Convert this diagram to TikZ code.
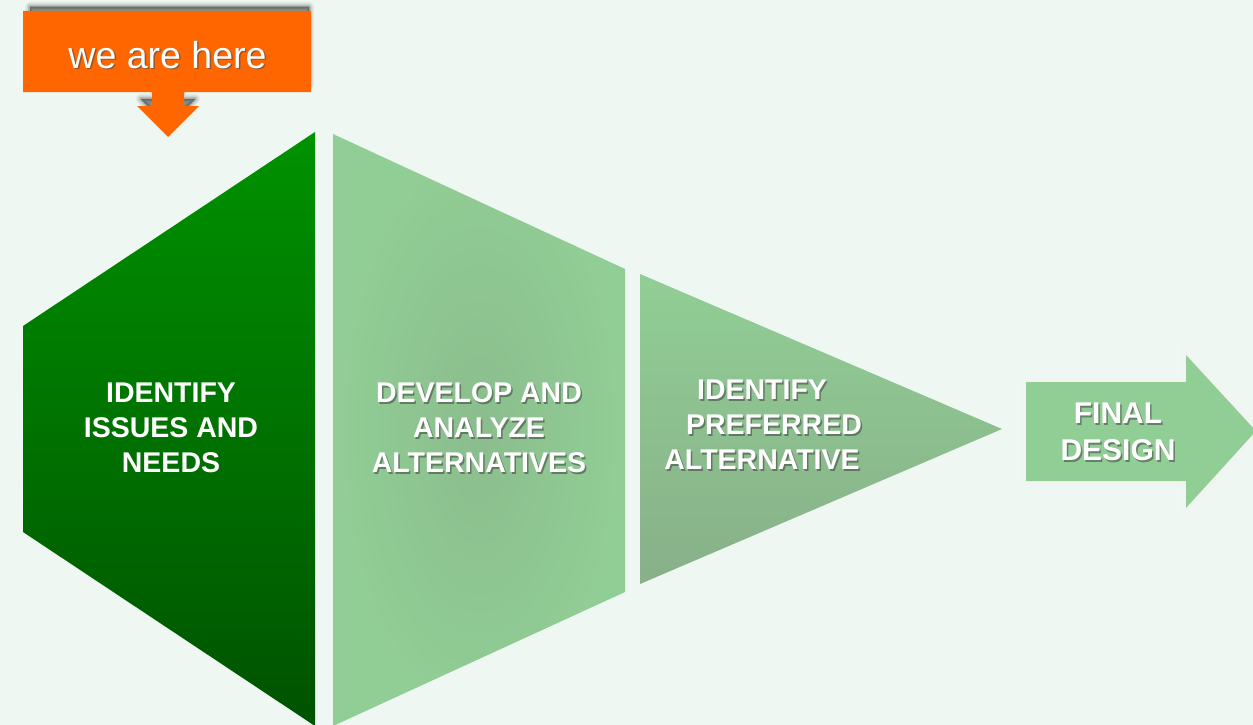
\documentclass[tikz,border=0pt]{standalone}
\usepackage{fontspec}
\setmainfont{Liberation Sans}
\usetikzlibrary{calc}
\definecolor{bg}{HTML}{EEF7F1}
\definecolor{orng}{HTML}{FF6600}
\definecolor{dkgtop}{HTML}{009200}
\definecolor{dkgbot}{HTML}{005200}
\definecolor{ltg}{HTML}{91CE95}
\definecolor{ltgin}{HTML}{8BBD8D}
\definecolor{trbot}{HTML}{88B089}
\definecolor{arrowedge}{HTML}{F2F4F2}
\begin{document}
\begin{tikzpicture}[x=1pt,y=-1pt,
  lbl/.style={align=center, inner sep=0pt, font=\fontsize{28.5}{35}\selectfont\bfseries, text=white},
  shd/.style={lbl, text=black!75, opacity=0.55},
  flbl/.style={lbl, font=\fontsize{30}{37}\selectfont\bfseries}]
\useasboundingbox (0,0) rectangle (1253,725);
\clip (0,0) rectangle (1253,725);
\fill[bg] (0,0) rectangle (1253,725);

% callout shadow (soft, shifted upward)
\foreach \w/\o in {10/0.05,7/0.08,4/0.12,1/0.18}{
  \draw[black, line width=\w pt, opacity=\o, line join=round, fill=black]
    (30,7) -- (309,7) -- (309,85) -- (181,85) -- (181,99) -- (195,99) -- (168,127) -- (141,99) -- (155,99) -- (155,85) -- (30,85) -- cycle;
}
% callout
\fill[orng] (23,11) -- (311,11) -- (311,92) -- (184,92) -- (184,106) -- (199,106) -- (168,137) -- (137,106) -- (152,106) -- (152,92) -- (23,92) -- cycle;
\node[font=\fontsize{37.5}{40}\selectfont, text=black!70, opacity=0.6, anchor=base, inner sep=0pt] (weshd) at (169,70) {we are here};
\node[font=\fontsize{37.5}{40}\selectfont, text=white, anchor=base, inner sep=0pt] (we) at (167.5,68.3) {we are here};

% stage 1
\shade[top color=dkgtop, bottom color=dkgbot] (23,326) -- (315,132) -- (315,726) -- (23,532) -- cycle;
\node[lbl] (s1) at (171,428) {IDENTIFY\\ISSUES AND\\NEEDS};

% stage 2
\shade[inner color=ltgin, outer color=ltg] (333,134) -- (625,269) -- (625,592) -- (333,726) -- cycle;
\node[shd] (s2s) at (480.5,429.5) {DEVELOP AND\\ANALYZE\\ALTERNATIVES};
\node[lbl] (s2) at (479,428) {DEVELOP AND\\ANALYZE\\ALTERNATIVES};

% stage 3
\shade[top color=ltg, bottom color=trbot] (640,274) -- (1002,429) -- (640,584) -- cycle;
\node[shd] (s3s) at (763.5,426.5) {IDENTIFY\\\hspace*{24pt}PREFERRED\\ALTERNATIVE};
\node[lbl] (s3) at (762,425) {IDENTIFY\\\hspace*{24pt}PREFERRED\\ALTERNATIVE};

% final arrow
\draw[arrowedge, line width=8pt, line join=miter, fill=ltg] (1026,382) -- (1186,382) -- (1186,355) -- (1256,431) -- (1186,508) -- (1186,481) -- (1026,481) -- cycle;
\fill[ltg] (1026,382) -- (1186,382) -- (1186,355) -- (1256,431) -- (1186,508) -- (1186,481) -- (1026,481) -- cycle;
\node[shd, font=\fontsize{30}{37}\selectfont\bfseries] (s4s) at (1119.5,433.5) {FINAL\\DESIGN};
\node[flbl] (s4) at (1118,432) {FINAL\\DESIGN};
\end{tikzpicture}
\end{document}
